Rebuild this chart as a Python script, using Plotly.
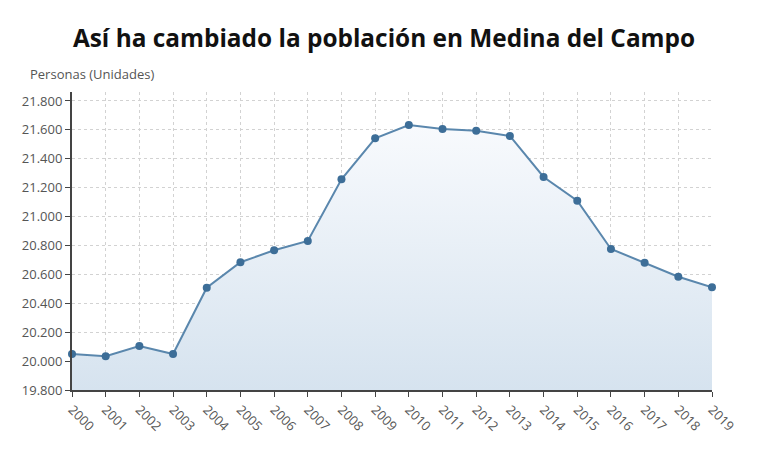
import plotly.graph_objects as go

years = list(range(2000, 2020))
habitantes = [20049, 20033, 20104, 20049, 20508, 20684, 20767, 20831, 21258, 21542,
              21634, 21606, 21594, 21558, 21274, 21110, 20776, 20681, 20584, 20511]
y_ticks = list(range(19800, 21801, 200))

W, H = 768, 452
L, R, T, B = 72, 56, 92, 62

fig = go.Figure()
fig.add_trace(go.Scatter(
    x=years, y=habitantes, mode="lines+markers",
    line=dict(color="#5a87ad", width=2),
    marker=dict(color="#3d6e98", size=8),
    fill="tozeroy",
    fillgradient=dict(type="vertical", start=19800, stop=21640,
                      colorscale=[[0, "#d6e3ef"], [1, "#f8fafd"]]),
    cliponaxis=False,
    showlegend=False,
))

fig.update_layout(
    width=W, height=H,
    margin=dict(l=L, r=R, t=T, b=B),
    paper_bgcolor="white", plot_bgcolor="white",
    separators=",.",
    font=dict(family="Open Sans", color="#555"),
    title=dict(text="<b>Así ha cambiado la población en Medina del Campo</b>",
               x=0.5, xanchor="center", y=1 - 38 / H, yanchor="middle",
               font=dict(family="Open Sans", size=24.4, color="#111")),
    xaxis=dict(range=[2000, 2019], tickvals=years, ticktext=[str(y) for y in years],
               tickangle=45, ticks="outside", ticklen=5, tickcolor="#444",
               showline=True, linecolor="#444", linewidth=2,
               showgrid=True, gridcolor="#d2d2d2", griddash="dot", gridwidth=1,
               tickfont=dict(size=13, color="#555"), zeroline=False),
    yaxis=dict(range=[19800, 21862], tickvals=y_ticks, tickformat=",.0f",
               ticks="outside", ticklen=5, tickcolor="#444",
               showline=True, linecolor="#444", linewidth=2,
               showgrid=True, gridcolor="#d2d2d2", griddash="dot", gridwidth=1,
               tickfont=dict(size=13, color="#555"), zeroline=False),
    annotations=[
        dict(text="Personas (Unidades)", xref="paper", yref="paper",
             x=(28 - L) / (W - L - R), y=1 + (T - 74) / (H - T - B),
             xanchor="left", yanchor="middle", showarrow=False,
             font=dict(size=13, color="#555")),
        dict(text="<span style='color:#3d6e98'>■</span> Número de habitantes"
                  "      Fuente: INE, www.epdata.es",
             xref="paper", yref="paper",
             x=(385 - L) / (W - L - R), y=-(446 - (H - B)) / (H - T - B),
             xanchor="center", yanchor="top", showarrow=False,
             font=dict(size=13, color="#333")),
    ],
)

fig.write_html("out.html")
